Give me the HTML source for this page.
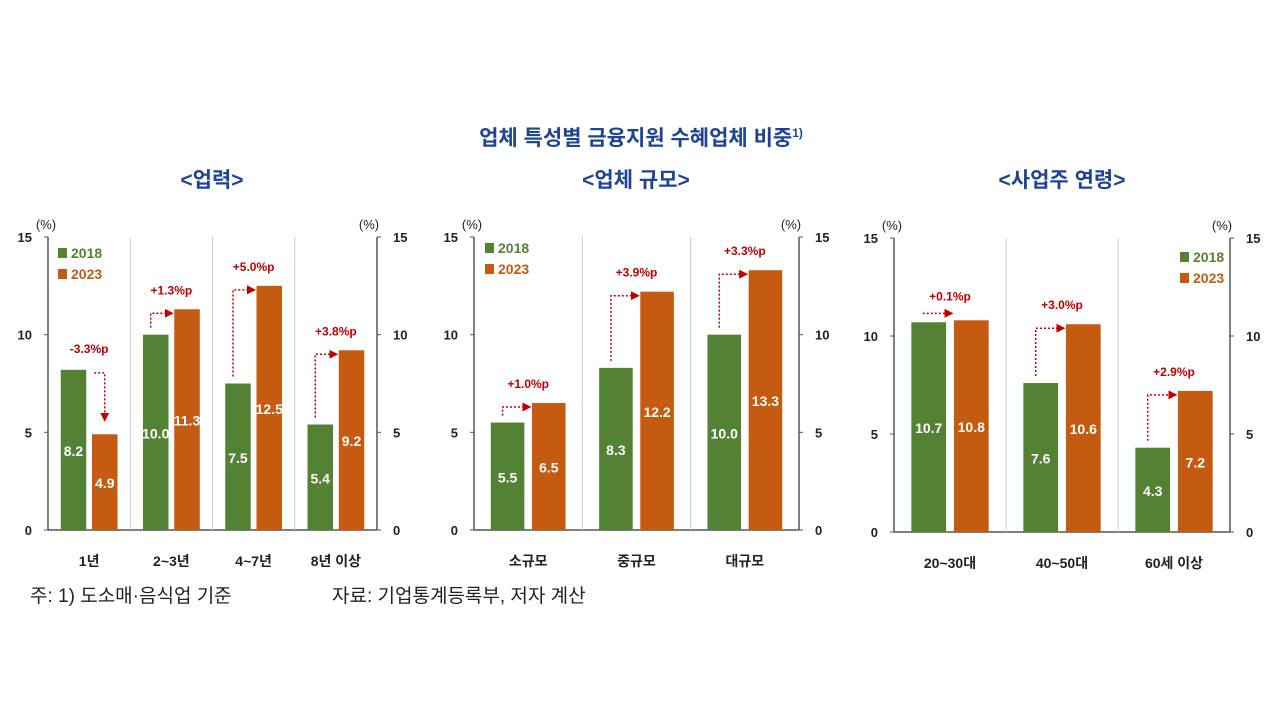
<!DOCTYPE html>
<html><head><meta charset="utf-8">
<style>
html,body{margin:0;padding:0;background:#fff;}
svg{display:block;font-family:"Liberation Sans","Noto Sans CJK KR",sans-serif;}
</style></head>
<body>
<svg id="chart" width="1280" height="720" viewBox="0 0 1280 720">
<text x="641" y="145" text-anchor="middle" font-size="21" font-weight="bold" fill="#1f4491">업체 특성별 금융지원 수혜업체 비중<tspan font-size="12" dy="-8">1)</tspan></text>
<text x="212" y="187" text-anchor="middle" font-size="21" font-weight="bold" fill="#1f4491">&lt;업력&gt;</text>
<text x="636" y="187" text-anchor="middle" font-size="21" font-weight="bold" fill="#1f4491">&lt;업체 규모&gt;</text>
<text x="1062" y="187" text-anchor="middle" font-size="21" font-weight="bold" fill="#1f4491">&lt;사업주 연령&gt;</text>
<text x="30" y="602" font-size="19" fill="#222">주: 1) 도소매·음식업 기준</text>
<text x="332" y="602" font-size="19" fill="#222">자료: 기업통계등록부, 저자 계산</text>
</svg>
<script>
const cats1 = ["1년","2~3년","4~7년","8년 이상"];
const v2018_1 = [8.2,10.0,7.5,5.4];
const v2023_1 = [4.9,11.3,12.5,9.2];
const diff1 = ["-3.3%p","+1.3%p","+5.0%p","+3.8%p"];
const cats2 = ["소규모","중규모","대규모"];
const v2018_2 = [5.5,8.3,10.0];
const v2023_2 = [6.5,12.2,13.3];
const diff2 = ["+1.0%p","+3.9%p","+3.3%p"];
const cats3 = ["20~30대","40~50대","60세 이상"];
const v2018_3 = [10.7,7.6,4.3];
const v2023_3 = [10.8,10.6,7.2];
const diff3 = ["+0.1%p","+3.0%p","+2.9%p"];
const ticks = [0,5,10,15];
const legendLabels = ["2018","2023"];

const NS="http://www.w3.org/2000/svg";
const svg=document.getElementById('chart');
const GREEN="#548235", ORANGE="#c55a11", RED="#c00000";
function mk(tag,attrs,parent){const e=document.createElementNS(NS,tag);for(const k in attrs)e.setAttribute(k,attrs[k]);(parent||svg).appendChild(e);return e;}

const defs=mk('defs',{});
const mkr=mk('marker',{id:'arr',markerWidth:6,markerHeight:6,refX:5,refY:3,orient:'auto'},defs);
mk('path',{d:'M0,0 L6,3 L0,6 Z',fill:RED},mkr);

function panel(id,L,R,yTop,y0,cats,a,b,diffs,legendPos){
  const g=mk('g',{});
  
  
  const y=v=>y0-(v/15)*(y0-yTop);
  const gw=(R-L)/cats.length;
  // axes
  const al=mk('line',{x1:L,y1:yTop,x2:L,y2:y0,stroke:'#555','stroke-width':1.5},g);
  
  
  const ar=mk('line',{x1:R,y1:yTop,x2:R,y2:y0,stroke:'#555','stroke-width':1.5},g);
  
  
  const ab=mk('line',{x1:L,y1:y0,x2:R,y2:y0,stroke:'#555','stroke-width':1.5},g);
  
  
  for(const t of ticks){
    mk('line',{x1:L-4,y1:y(t),x2:L,y2:y(t),stroke:'#555'},g);
    mk('line',{x1:R,y1:y(t),x2:R+4,y2:y(t),stroke:'#555'},g);
    const tl=mk('text',{x:L-16,y:y(t)+5,'text-anchor':'end','font-size':13,'font-weight':'bold',fill:'#222'},g);
    tl.textContent=t;
    
    
    const tr=mk('text',{x:R+16,y:y(t)+5,'text-anchor':'start','font-size':13,'font-weight':'bold',fill:'#222'},g);
    tr.textContent=t;
    
    
  }
  const ul=mk('text',{x:L-2,y:yTop-8,'text-anchor':'middle','font-size':13,fill:'#222'},g);ul.textContent='(%)';
  
  
  const ur=mk('text',{x:R-8,y:yTop-8,'text-anchor':'middle','font-size':13,fill:'#222'},g);ur.textContent='(%)';
  
  
  for(let i=1;i<cats.length;i++){
    const d=mk('line',{x1:L+gw*i,y1:yTop,x2:L+gw*i,y2:y0,stroke:'#ccc'},g);
    
    
  }
  const bw=gw*0.31, gap=gw*0.07, off=(gw-2*bw-gap)/2;
  cats.forEach((c,i)=>{
    const gx=L+gw*i, x1=gx+off, x2=x1+bw+gap;
    const r1=mk('rect',{x:x1,y:y(a[i]),width:bw,height:y0-y(a[i]),fill:GREEN},g);
    
    
    const r2=mk('rect',{x:x2,y:y(b[i]),width:bw,height:y0-y(b[i]),fill:ORANGE},g);
    
    
    const t1=mk('text',{x:x1+bw/2,y:(y(a[i])+y0)/2+6,'text-anchor':'middle','font-size':14,'font-weight':'bold',fill:'#fff'},g);
    t1.textContent=a[i].toFixed(1);
    
    
    const t2=mk('text',{x:x2+bw/2,y:(y(b[i])+y0)/2+6,'text-anchor':'middle','font-size':14,'font-weight':'bold',fill:'#fff'},g);
    t2.textContent=b[i].toFixed(1);
    
    
    const cl=mk('text',{x:gx+gw/2,y:y0+36,'text-anchor':'middle','font-size':14,'font-weight':'bold',fill:'#222'},g);
    cl.textContent=c;
    
    
    // annotation arrow
    let path, ly;
    const ya=y(a[i]), yb=y(b[i]);
    if(b[i]<a[i]){
      const hy=ya+3, vx=x2+bw/2;
      path=`M${x1+bw+8},${hy} L${vx},${hy} L${vx},${yb-14}`;
      ly=hy-20;
    } else if(ya-yb<12){
      const hy=yb-7;
      path=`M${x1+bw/2-6},${hy} L${x2-2},${hy}`;
      ly=hy-13;
    } else {
      const hy=yb+4, sx=x1+bw/2-5;
      path=`M${sx},${ya-7} L${sx},${hy} L${x2-2},${hy}`;
      ly=hy-19;
    }
    const p=mk('path',{d:path,fill:'none',stroke:RED,'stroke-width':1.5,'stroke-dasharray':'2,2','marker-end':'url(#arr)'},g);
    
    
    const dl=mk('text',{x:(x1+x2+bw)/2,y:ly,'text-anchor':'middle','font-size':12,'font-weight':'bold',fill:RED},g);
    dl.textContent=diffs[i];
    
    
  });
  // legend
  const cols=[GREEN,ORANGE];
  legendLabels.forEach((lab,k)=>{
    const lx=legendPos[0], ly=legendPos[1]+k*21;
    const sq=mk('rect',{x:lx,y:ly-10,width:9,height:10,fill:cols[k]},g);
    
    
    const lt=mk('text',{x:lx+13,y:ly,'font-size':14,'font-weight':'bold',fill:cols[k]},g);
    lt.textContent=lab;
    
    
  });
}
panel('panel-firm-age',48,377,237,530,cats1,v2018_1,v2023_1,diff1,[58,258]);
panel('panel-firm-size',474,799,237,530,cats2,v2018_2,v2023_2,diff2,[485,253]);
panel('panel-owner-age',894,1230,238,532,cats3,v2018_3,v2023_3,diff3,[1180,262]);
</script>
</body></html>
